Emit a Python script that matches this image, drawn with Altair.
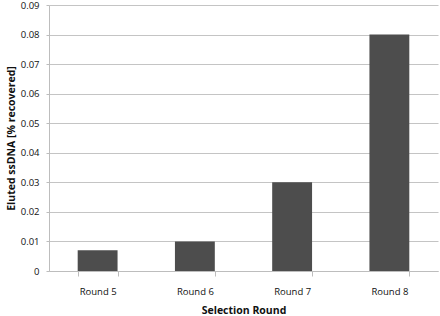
import altair as alt
import pandas as pd

rounds = ["Round 5", "Round 6", "Round 7", "Round 8"]
values = [0.007, 0.010, 0.030, 0.080]
y_ticks = [0, 0.01, 0.02, 0.03, 0.04, 0.05, 0.06, 0.07, 0.08, 0.09]

df = pd.DataFrame({"round": rounds, "value": values})

font = "Open Sans"

chart = alt.Chart(df).mark_bar(color="#4d4d4d").encode(
    x=alt.X("round:N", sort=rounds, title="Selection Round",
            scale=alt.Scale(paddingInner=0.59, paddingOuter=0.295),
            axis=alt.Axis(labelAngle=0, tickBand="extent", labelPadding=10, tickSize=5,
                          titlePadding=10, domainColor="#bdbdbd", tickColor="#bdbdbd",
                          labelFont=font, labelFontSize=9.5, labelColor="#111111",
                          titleFont=font, titleFontSize=10.5, titleFontWeight="bold",
                          titleColor="#111111")),
    y=alt.Y("value:Q", title="Eluted ssDNA [% recovered]",
            scale=alt.Scale(domain=[0, 0.09], nice=False),
            axis=alt.Axis(values=y_ticks, labelExpr="datum.value == 0 ? '0' : format(datum.value, '.2f')",
                          tickSize=3, labelPadding=7, domainColor="#bdbdbd", tickColor="#bdbdbd",
                          gridColor="#c4c4c4", grid=True,
                          labelFont=font, labelFontSize=9.5, labelColor="#111111",
                          titleFont=font, titleFontSize=10.5, titleFontWeight="bold",
                          titleColor="#111111", titlePadding=4)),
).properties(
    width=389, height=266,
    autosize=alt.AutoSizeParams(type="none"),
    padding={"left": 49, "top": 5, "right": 2, "bottom": 45},
).configure_view(stroke=None)

chart.save("out.html", embed_options={"renderer": "svg", "actions": False})
